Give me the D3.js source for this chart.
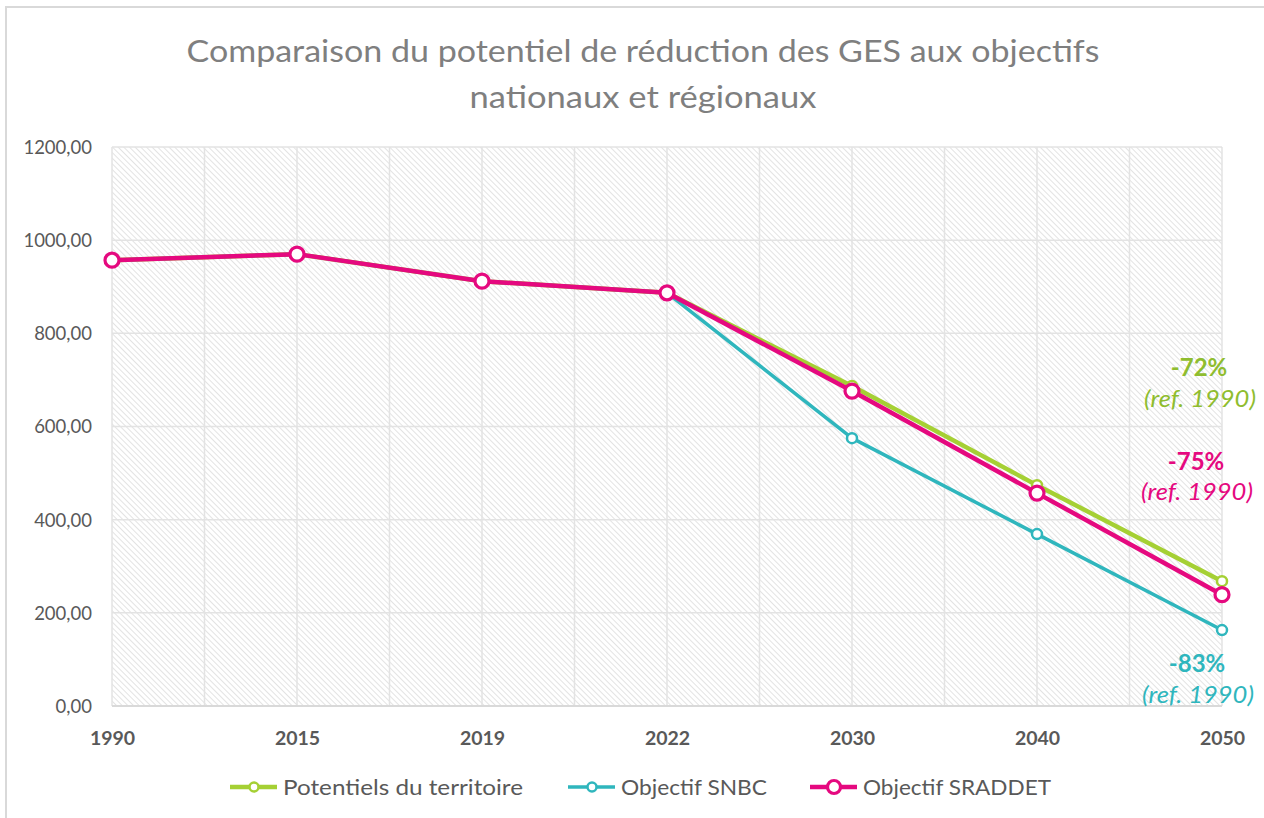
<!DOCTYPE html>
<html><head><meta charset="utf-8">
<script src="https://cdn.jsdelivr.net/npm/d3@7"></script>
<style>body{margin:0;background:#fff}svg{display:block}</style>
</head><body>
<svg id="c" width="1264" height="818"></svg>
<script>
const years = ["1990","2015","2019","2022","2030","2040","2050"];
const potentiels = [957, 970, 912, 887, 687, 474, 268];
const snbc = [957, 970, 912, 887, 575, 369, 163];
const sraddet = [957, 970, 912, 887, 676, 457, 239];
const seriesNames = ["Potentiels du territoire", "Objectif SNBC", "Objectif SRADDET"];
const yTicks = [0, 200, 400, 600, 800, 1000, 1200];
const annotations = ["-72%", "-75%", "-83%"];
const refLabel = "(ref. 1990)";
const titleLines = ["Comparaison du potentiel de réduction des GES aux objectifs", "nationaux et régionaux"];

(function () {
const colors = ["#a5d034", "#2fb6bd", "#e5097f"];
const annColors = ["#8fbd2f", "#e5097f", "#2fb6bd"];
const font = "Lato, 'Open Sans', sans-serif";

const svg = d3.select("#c");
const W = 1264, H = 818;
const pLeft = 112, pRight = 1222, pTop = 147, pBottom = 706;

svg.append("rect").attr("x", 6).attr("y", 7).attr("width", W + 10).attr("height", H + 10)
  .attr("fill", "#fff").attr("stroke", "#d9d9d9").attr("stroke-width", 2);

const defs = svg.append("defs");
const pat = defs.append("pattern").attr("id", "hatch").attr("patternUnits", "userSpaceOnUse")
  .attr("width", 4).attr("height", 4).attr("patternTransform", "rotate(45)");
pat.append("rect").attr("width", 4).attr("height", 4).attr("fill", "#ffffff");
pat.append("line").attr("x1", 0).attr("y1", 0).attr("x2", 4).attr("y2", 0)
  .attr("stroke", "#d4d4d4").attr("stroke-width", 1.3);

const x = d3.scalePoint().domain(years).range([pLeft, pRight]);
const y = d3.scaleLinear().domain([0, 1200]).range([pBottom, pTop]);

svg.append("rect").attr("x", pLeft).attr("y", pTop).attr("width", pRight - pLeft).attr("height", pBottom - pTop)
  .attr("fill", "url(#hatch)");

const g = svg.append("g");
yTicks.forEach(t => {
  g.append("line").attr("x1", pLeft).attr("x2", pRight).attr("y1", y(t)).attr("y2", y(t))
    .attr("stroke", "#e3e3e3").attr("stroke-width", 1.5);
});
const step = x.step();
for (let i = 0; i < years.length * 2 - 1; i++) {
  const xx = pLeft + i * step / 2;
  g.append("line").attr("x1", xx).attr("x2", xx).attr("y1", pTop).attr("y2", pBottom)
    .attr("stroke", "#e3e3e3").attr("stroke-width", 1.5);
}
svg.append("line").attr("x1", pLeft).attr("x2", pRight).attr("y1", pBottom).attr("y2", pBottom)
  .attr("stroke", "#d9d9d9").attr("stroke-width", 2);

const yAxis = d3.axisLeft(y).tickValues(yTicks).tickSize(0).tickPadding(20)
  .tickFormat(d => d3.format(".2f")(d).replace(".", ","));
const ya = svg.append("g").attr("transform", `translate(${pLeft},0)`).call(yAxis);
ya.select(".domain").remove();
ya.selectAll("text").attr("font-family", font).attr("font-size", 18.5).attr("fill", "#595959").attr("dy", "0.35em");

const xAxis = d3.axisBottom(x).tickSize(0).tickPadding(25);
const xa = svg.append("g").attr("transform", `translate(0,${pBottom})`).call(xAxis);
xa.select(".domain").remove();
xa.selectAll("text").attr("font-family", font).attr("font-size", 19.5).attr("font-weight", "bold").attr("fill", "#595959");

const allSeries = [potentiels, snbc, sraddet];
const widths = [4.5, 3.5, 4.5];
const radii = [5, 5, 7];
const mw = [2.5, 2.5, 3.2];
const line = d3.line().x((d, i) => x(years[i])).y(d => y(d));
allSeries.forEach((s, k) => {
  svg.append("path").datum(s).attr("d", line).attr("fill", "none")
    .attr("stroke", colors[k]).attr("stroke-width", widths[k]).attr("stroke-linejoin", "round");
  svg.selectAll(null).data(s).enter().append("circle")
    .attr("cx", (d, i) => x(years[i])).attr("cy", d => y(d)).attr("r", radii[k])
    .attr("fill", "#fff").attr("stroke", colors[k]).attr("stroke-width", mw[k]);
});

const annPos = [
  {cx: 1199, y1: y(potentiels[6]) - 205, y2: y(potentiels[6]) - 174},
  {cx: 1196, y1: y(sraddet[6]) - 125, y2: y(sraddet[6]) - 95},
  {cx: 1197, y1: y(snbc[6]) + 42, y2: y(snbc[6]) + 73}
];
annotations.forEach((a, k) => {
  svg.append("text").attr("x", annPos[k].cx).attr("y", annPos[k].y1).attr("text-anchor", "middle")
    .attr("font-family", font).attr("font-size", 24).attr("font-weight", "bold").attr("fill", annColors[k]).text(a);
  svg.append("text").attr("x", annPos[k].cx + 1).attr("y", annPos[k].y2).attr("text-anchor", "middle")
    .attr("font-family", font).attr("font-size", 24).attr("font-style", "italic")
    .attr("fill", annColors[k]).attr("textLength", 112).attr("lengthAdjust", "spacingAndGlyphs").text(refLabel);
});

const tl = [{x: 643, y: 62, w: 913}, {x: 643, y: 108, w: 347}];
titleLines.forEach((t, i) => {
  svg.append("text").attr("x", tl[i].x).attr("y", tl[i].y).attr("text-anchor", "middle")
    .attr("font-family", font).attr("font-size", 30).attr("fill", "#7f7f7f")
    .attr("textLength", tl[i].w).attr("lengthAdjust", "spacingAndGlyphs").text(t);
});

const legX = [230, 568, 810];
const legTextW = [240, 146, 188];
seriesNames.forEach((n, k) => {
  const lg = svg.append("g").attr("transform", `translate(${legX[k]},787)`);
  lg.append("line").attr("x1", 0).attr("x2", 47).attr("y1", 0).attr("y2", 0)
    .attr("stroke", colors[k]).attr("stroke-width", widths[k]);
  lg.append("circle").attr("cx", 24).attr("cy", 0).attr("r", radii[k] - 0.5)
    .attr("fill", "#fff").attr("stroke", colors[k]).attr("stroke-width", mw[k]);
  lg.append("text").attr("x", 53).attr("y", 8).attr("font-family", font).attr("font-size", 21)
    .attr("fill", "#595959").attr("textLength", legTextW[k]).attr("lengthAdjust", "spacingAndGlyphs").text(n);
});
})();
</script>
</body></html>
